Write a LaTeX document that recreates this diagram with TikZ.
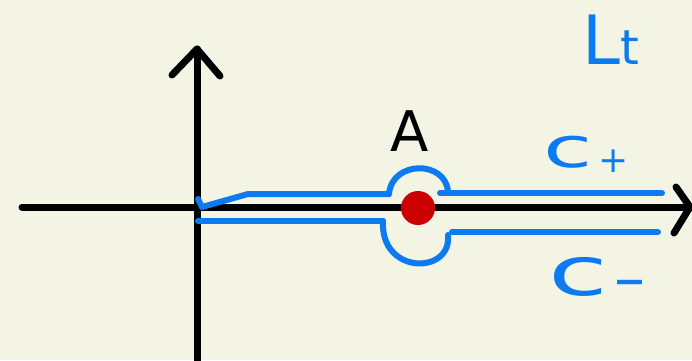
\documentclass[tikz,border=0pt]{standalone}
\usepackage{fontspec}
\setmainfont{DejaVu Sans}
\definecolor{bg}{RGB}{244,244,228}
\definecolor{penblue}{RGB}{12,122,240}
\definecolor{penred}{RGB}{204,0,0}
\begin{document}
\begin{tikzpicture}[x=1pt,y=-1pt,
  axis/.style={line width=7pt,black,line cap=round,line join=round},
  contour/.style={line width=6pt,penblue,line cap=round,line join=round},
  bluelabel/.style={text=penblue,inner sep=0pt,font=\fontsize{56}{56}\selectfont}]
\fill[bg] (0,0) rectangle (692,360);
\useasboundingbox (0,0) rectangle (692,360);
% axes
\coordinate (xl) at (22,207);
\coordinate (xr) at (690,207);
\coordinate (yb) at (197,362);
\coordinate (yt) at (197,49);
\coordinate (xa1) at (676,187);
\coordinate (xa2) at (674,233);
\coordinate (ya1) at (172,75);
\coordinate (ya2) at (220,76);
\draw[axis] (xl) -- (xr);
\draw[axis] (xa1) -- (xr) -- (xa2);
\draw[axis] (yb) -- (yt);
\draw[axis] (ya1) -- (yt) -- (ya2);
% point A
\node[circle,fill=penred,minimum size=34pt,inner sep=0pt] (dot) at (418,208) {};
\node[font=\fontsize{56}{56}\selectfont,inner sep=0pt] (A) at (410,131) {A};
% contours
\coordinate (u0) at (198,199);
\coordinate (u1) at (202,207);
\coordinate (u2) at (248,194);
\coordinate (u3) at (389,194);
\coordinate (u4) at (448,192);
\coordinate (u5) at (440,193);
\coordinate (u6) at (662,193);
\draw[contour] (u0) -- (u1) -- (u2) -- (u3);
\draw[contour] (u3) .. controls (392,160) and (446,160) .. (u4);
\draw[contour] (u5) -- (u6);
\coordinate (l0) at (198,221);
\coordinate (l1) at (383,221);
\coordinate (l2) at (448,235);
\coordinate (l3) at (452,232);
\coordinate (l4) at (658,232);
\draw[contour] (l0) -- (l1);
\draw[contour] (l1) .. controls (380,275) and (452,275) .. (l2);
\draw[contour] (l3) -- (l4);
% labels
\node[bluelabel,anchor=base west] (cplus) at (543,167) {\scalebox{1.6}[1]{c}\kern6pt\raisebox{-5pt}{\fontsize{36}{36}\selectfont+}};
\node[bluelabel,anchor=base west] (cminus) at (548,295) {\scalebox{1.6}[1]{\fontsize{68}{68}\selectfont c}\kern6pt{\fontsize{62}{62}\selectfont\raisebox{-4pt}{–}}};
\node[bluelabel,anchor=base west,font=\fontsize{68}{68}\selectfont] (plane) at (582,64) {L{\fontsize{48}{48}\selectfont t}};
\end{tikzpicture}
\end{document}
